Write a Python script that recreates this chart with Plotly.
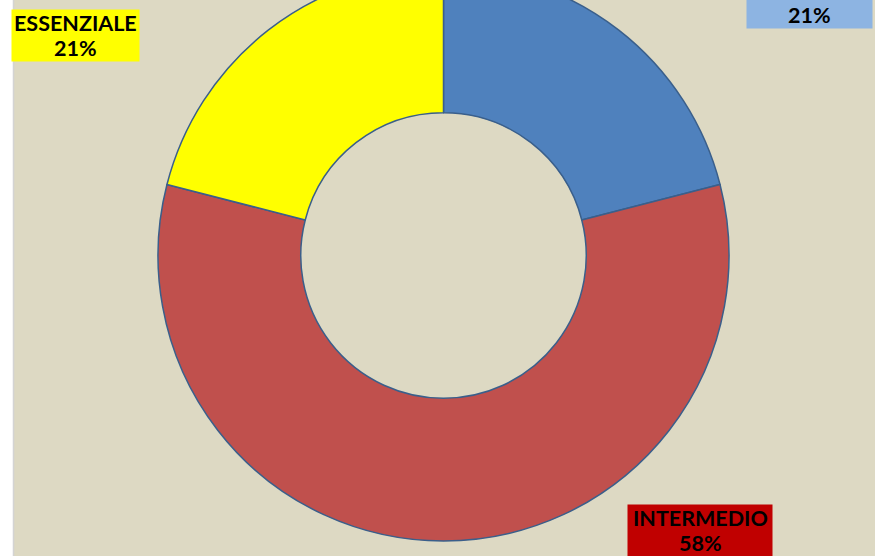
import plotly.graph_objects as go

# data
labels = ["AVANZATO", "INTERMEDIO", "ESSENZIALE"]
values = [21, 58, 21]
slice_colors = ["#4F81BD", "#C0504D", "#FFFF00"]
label_colors = ["#8DB4E2", "#C00000", "#FFFF00"]

W, H, SHIFT = 875, 640, 40


def px(x, y):
    # page pixel (x, y from top of visible window) -> paper coords
    return x / W, 1 - (y + SHIFT) / H


fig = go.Figure()

cx, cy, r = 443.5, 255.5, 285.5
x0, _ = px(cx - r, 0)
x1, _ = px(cx + r, 0)
_, y1 = px(0, cy - r)
_, y0 = px(0, cy + r)

fig.add_trace(go.Pie(
    labels=labels, values=values, hole=0.5, sort=False,
    direction="clockwise", rotation=0,
    marker=dict(colors=slice_colors, line=dict(color="#3A5F8B", width=1.5)),
    textinfo="none", hoverinfo="label+percent",
    domain=dict(x=[x0, x1], y=[y0, y1]),
))

# label boxes (center x, center y, width, height) in page pixels
boxes = [(809.5, 2.5, 125, 51), (700, 530.5, 144, 51), (75.5, 35.5, 127, 51)]
for lab, val, col, (bx, by, bw, bh) in zip(labels, values, label_colors, boxes):
    ax, ay = px(bx, by)
    # box
    fig.add_annotation(
        x=ax, y=ay, xref="paper", yref="paper", xanchor="center", yanchor="middle",
        text="", showarrow=False, bgcolor=col, width=bw, height=bh, borderpad=0,
    )
    # two text lines
    for txt, dy in ((lab, -12.5), (f"{val}%", 12)):
        tx, ty = px(bx, by + dy)
        fig.add_annotation(
            x=tx, y=ty, xref="paper", yref="paper", xanchor="center", yanchor="middle",
            text=f"<b>{txt}</b>", showarrow=False,
            font=dict(family="Lato", size=21.5, color="black"),
        )

# white strip on the left
fig.add_shape(type="rect", xref="paper", yref="paper", x0=0, x1=13 / W, y0=0, y1=1,
              fillcolor="white", line=dict(width=0), layer="below")
fig.add_shape(type="line", xref="paper", yref="paper", x0=13.5 / W, x1=13.5 / W, y0=0, y1=1,
              line=dict(color="#D4D4D4", width=1.5), layer="below")

fig.update_layout(
    width=W, height=H, margin=dict(l=0, r=0, t=0, b=0),
    paper_bgcolor="#DDD9C3", showlegend=False,
)

js = ("var gd=document.getElementById('{plot_id}');gd.style.marginTop='-%dpx';"
      "document.body.style.margin='0';document.body.style.overflow='hidden';" % SHIFT)
fig.write_html("out.html", post_script=js)
